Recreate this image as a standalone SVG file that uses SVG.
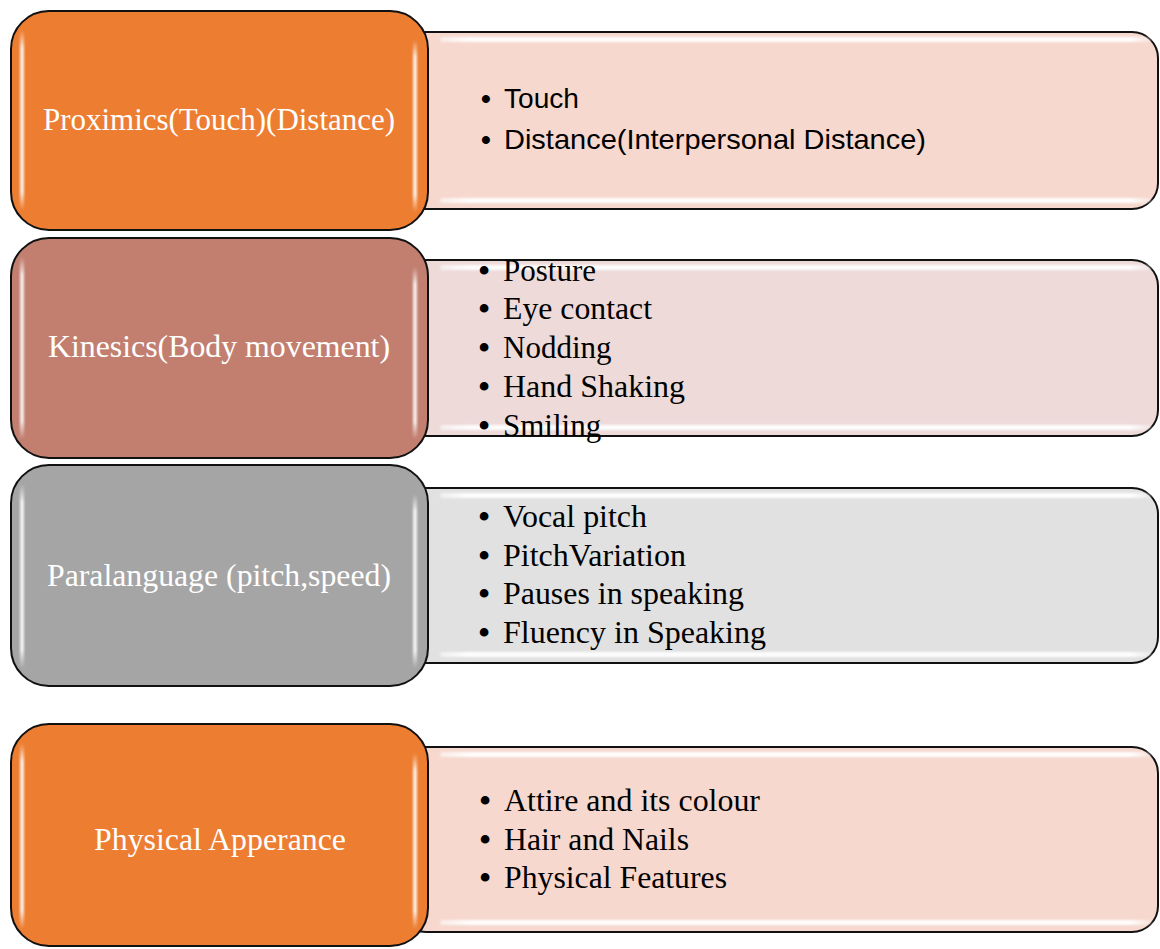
<svg xmlns="http://www.w3.org/2000/svg" width="1160" height="949" viewBox="0 0 1160 949">
  <defs>
    <!-- soft white sheen along the long edges of each card -->
    <linearGradient id="vShine" x1="0" y1="0" x2="0" y2="1">
      <stop offset="0" stop-color="#fff" stop-opacity="0"/>
      <stop offset="0.1" stop-color="#fff" stop-opacity="0.85"/>
      <stop offset="0.9" stop-color="#fff" stop-opacity="0.85"/>
      <stop offset="1" stop-color="#fff" stop-opacity="0"/>
    </linearGradient>
    <linearGradient id="hShine" x1="0" y1="0" x2="1" y2="0">
      <stop offset="0" stop-color="#fff" stop-opacity="0.5"/>
      <stop offset="0.04" stop-color="#fff" stop-opacity="0.95"/>
      <stop offset="0.97" stop-color="#fff" stop-opacity="0.95"/>
      <stop offset="1" stop-color="#fff" stop-opacity="0.2"/>
    </linearGradient>
    <filter id="soft" filterUnits="userSpaceOnUse" x="0" y="0" width="1160" height="949">
      <feGaussianBlur stdDeviation="1"/>
    </filter>
  </defs>
  <style>
    .card { stroke: #111; stroke-width: 2; }
    .head { stroke: #111; stroke-width: 2; }
    .vs { fill: url(#vShine); filter: url(#soft); }
    .hs { fill: url(#hShine); filter: url(#soft); }
    .title { font-family: "Liberation Serif", "Times New Roman", serif; font-size: 31px; fill: #fff; text-anchor: middle; }
    .item { font-family: "Liberation Serif", "Times New Roman", serif; font-size: 31px; fill: #000; }
    .bul { font-family: "Liberation Serif", "Times New Roman", serif; font-size: 32px; font-weight: bold; fill: #000; text-anchor: middle; }
    .item-sans { font-family: "Liberation Sans", Arial, sans-serif; font-size: 28px; fill: #000; }
    .bul-sans { font-family: "Liberation Sans", Arial, sans-serif; font-size: 28px; font-weight: bold; fill: #000; text-anchor: middle; }
    .orange { fill: #ED7D31; }
    .rose { fill: #C27F70; }
    .grey { fill: #A5A5A5; }
    .orange-lt { fill: #F6D8CE; }
    .rose-lt { fill: #EDDAD9; }
    .grey-lt { fill: #E1E1E1; }
  </style>

  <rect width="1160" height="949" fill="#fff"/>

  <!-- Proximics -->
  <g id="proximics">
    <rect class="card orange-lt" x="400" y="32" width="758" height="177" rx="26"/>
    <rect class="hs" x="440" y="37" width="712" height="5" rx="2.5"/>
    <rect class="hs" x="440" y="198" width="712" height="5" rx="2.5"/>
    <rect class="head orange" x="11" y="11" width="417" height="219" rx="38"/>
    <rect class="vs" x="20" y="30" width="4" height="180" rx="2"/>
    <rect class="vs" x="413" y="40" width="4" height="172" rx="2"/>
    <text class="title" x="219" y="130" textLength="352" lengthAdjust="spacingAndGlyphs">Proximics(Touch)(Distance)</text>
    <text class="bul-sans" x="486" y="108">•</text>
    <text class="item-sans" x="504" y="108" textLength="75" lengthAdjust="spacingAndGlyphs">Touch</text>
    <text class="bul-sans" x="486" y="149">•</text>
    <text class="item-sans" x="504" y="149" textLength="422" lengthAdjust="spacingAndGlyphs">Distance(Interpersonal Distance)</text>
  </g>

  <!-- Kinesics -->
  <g id="kinesics">
    <rect class="card rose-lt" x="400" y="260" width="758" height="176" rx="26"/>
    <rect class="hs" x="440" y="265" width="712" height="5" rx="2.5"/>
    <rect class="hs" x="440" y="425" width="712" height="5" rx="2.5"/>
    <rect class="head rose" x="11" y="238" width="417" height="220" rx="38"/>
    <rect class="vs" x="20" y="257" width="4" height="182" rx="2"/>
    <rect class="vs" x="413" y="267" width="4" height="172" rx="2"/>
    <text class="title" x="219" y="357" textLength="342" lengthAdjust="spacingAndGlyphs">Kinesics(Body movement)</text>
    <text class="bul" x="484" y="281">•</text><text class="item" x="503" y="281">Posture</text>
    <text class="bul" x="484" y="319">•</text><text class="item" x="503" y="319" textLength="149" lengthAdjust="spacingAndGlyphs">Eye contact</text>
    <text class="bul" x="484" y="358">•</text><text class="item" x="503" y="358">Nodding</text>
    <text class="bul" x="484" y="397">•</text><text class="item" x="503" y="397" textLength="182" lengthAdjust="spacingAndGlyphs">Hand Shaking</text>
    <text class="bul" x="484" y="436">•</text><text class="item" x="503" y="436">Smiling</text>
  </g>

  <!-- Paralanguage -->
  <g id="paralanguage">
    <rect class="card grey-lt" x="400" y="488" width="758" height="175" rx="26"/>
    <rect class="hs" x="440" y="493" width="712" height="5" rx="2.5"/>
    <rect class="hs" x="440" y="652" width="712" height="5" rx="2.5"/>
    <rect class="head grey" x="11" y="465" width="417" height="221" rx="38"/>
    <rect class="vs" x="20" y="484" width="4" height="184" rx="2"/>
    <rect class="vs" x="413" y="494" width="4" height="174" rx="2"/>
    <text class="title" x="219" y="586" textLength="344" lengthAdjust="spacingAndGlyphs">Paralanguage (pitch,speed)</text>
    <text class="bul" x="484" y="527">•</text><text class="item" x="503" y="527" textLength="144" lengthAdjust="spacingAndGlyphs">Vocal pitch</text>
    <text class="bul" x="484" y="566">•</text><text class="item" x="503" y="566" textLength="183" lengthAdjust="spacingAndGlyphs">PitchVariation</text>
    <text class="bul" x="484" y="604">•</text><text class="item" x="503" y="604" textLength="241" lengthAdjust="spacingAndGlyphs">Pauses in speaking</text>
    <text class="bul" x="484" y="643">•</text><text class="item" x="503" y="643" textLength="263" lengthAdjust="spacingAndGlyphs">Fluency in Speaking</text>
  </g>

  <!-- Physical appearance -->
  <g id="physical">
    <rect class="card orange-lt" x="400" y="747" width="758" height="185" rx="26"/>
    <rect class="hs" x="440" y="752" width="712" height="5" rx="2.5"/>
    <rect class="hs" x="440" y="920" width="712" height="5" rx="2.5"/>
    <rect class="head orange" x="11" y="724" width="417" height="222" rx="38"/>
    <rect class="vs" x="20" y="743" width="4" height="186" rx="2"/>
    <rect class="vs" x="413" y="753" width="4" height="176" rx="2"/>
    <text class="title" x="220" y="850" textLength="252" lengthAdjust="spacingAndGlyphs">Physical Apperance</text>
    <text class="bul" x="485" y="811">•</text><text class="item" x="504" y="811" textLength="256" lengthAdjust="spacingAndGlyphs">Attire and its colour</text>
    <text class="bul" x="485" y="850">•</text><text class="item" x="504" y="850" textLength="185" lengthAdjust="spacingAndGlyphs">Hair and Nails</text>
    <text class="bul" x="485" y="888">•</text><text class="item" x="504" y="888" textLength="223" lengthAdjust="spacingAndGlyphs">Physical Features</text>
  </g>
</svg>
